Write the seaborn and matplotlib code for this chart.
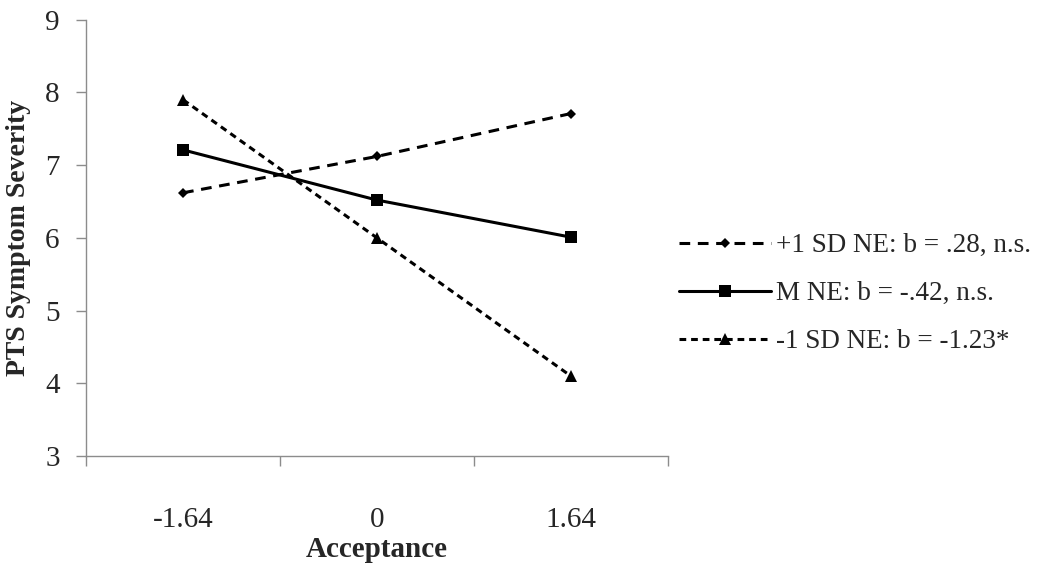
import matplotlib
matplotlib.use("Agg")
import matplotlib.pyplot as plt
import seaborn as sns
import pandas as pd

categories = ["-1.64", "0", "1.64"]
series_names = ["+1 SD NE: b = .28, n.s.", "M NE: b = -.42, n.s.", "-1 SD NE: b = -1.23*"]
high_ne = [6.62, 7.12, 7.71]
mean_ne = [7.21, 6.52, 6.01]
low_ne = [7.90, 6.00, 4.10]
y_ticks = [3, 4, 5, 6, 7, 8, 9]

sns.set_theme(style="white")
plt.rcParams["font.family"] = ["Liberation Serif", "DejaVu Serif"]

rows = []
for name, vals in zip(series_names, [high_ne, mean_ne, low_ne]):
    for i, v in enumerate(vals):
        rows.append({"pos": i, "value": v, "series": name})
df = pd.DataFrame(rows)

fig = plt.figure(figsize=(10.5, 5.71), dpi=100)
ax = fig.add_axes([0.082, 0.2014, 0.554, 0.764])

dashes = {series_names[0]: (3.5, 2.5), series_names[1]: "", series_names[2]: (2.2, 1.6)}
markers = {series_names[0]: "D", series_names[1]: "s", series_names[2]: "^"}
msize = {series_names[0]: 5, series_names[1]: 8, series_names[2]: 9}

sns.lineplot(data=df, x="pos", y="value", hue="series", style="series",
             dashes=dashes, markers=markers, palette=["black"] * 3,
             linewidth=2.2, markersize=8, markeredgewidth=0, ax=ax, legend=True,
             hue_order=series_names, style_order=series_names)

handles, labels = ax.get_legend_handles_labels()
for h, l in zip(handles, labels):
    if l in msize:
        h.set_markersize(msize[l])
for line, name in zip(ax.get_lines()[:3], series_names):
    line.set_markersize(msize[name])

ax.set_xlim(-0.5, 2.5)
ax.set_ylim(3, 9)
ax.set_yticks(y_ticks)
ax.set_yticklabels([str(t) for t in y_ticks], fontsize=21)
ax.set_xticks([-0.5, 0.5, 1.5, 2.5])
ax.set_xticklabels([])
ax.set_xticks([0, 1, 2], minor=True)
ax.set_xticklabels(categories, minor=True, fontsize=21)
ax.tick_params(axis="x", which="minor", bottom=False, length=0, pad=37)
ax.tick_params(axis="x", which="major", bottom=True, length=7, color="#8c8c8c", width=1, direction="out")
ax.tick_params(axis="y", left=True, length=7, color="#8c8c8c", width=1, direction="out", pad=12)

for s in ["top", "right"]:
    ax.spines[s].set_visible(False)
for s in ["left", "bottom"]:
    ax.spines[s].set_color("#8c8c8c")
    ax.spines[s].set_linewidth(1)

ax.set_xlabel("Acceptance", fontsize=21, fontweight="bold", labelpad=2)
ax.set_ylabel("PTS Symptom Severity", fontsize=20, fontweight="bold", labelpad=10)

leg = ax.legend(handles=handles[:3], labels=labels[:3], loc="center left",
                bbox_to_anchor=(1.0, 0.372), frameon=False, fontsize=19.5,
                borderaxespad=0.0, handlelength=3.4, handletextpad=0.2,
                labelspacing=0.85)

fig.savefig("out.png", dpi=100)
